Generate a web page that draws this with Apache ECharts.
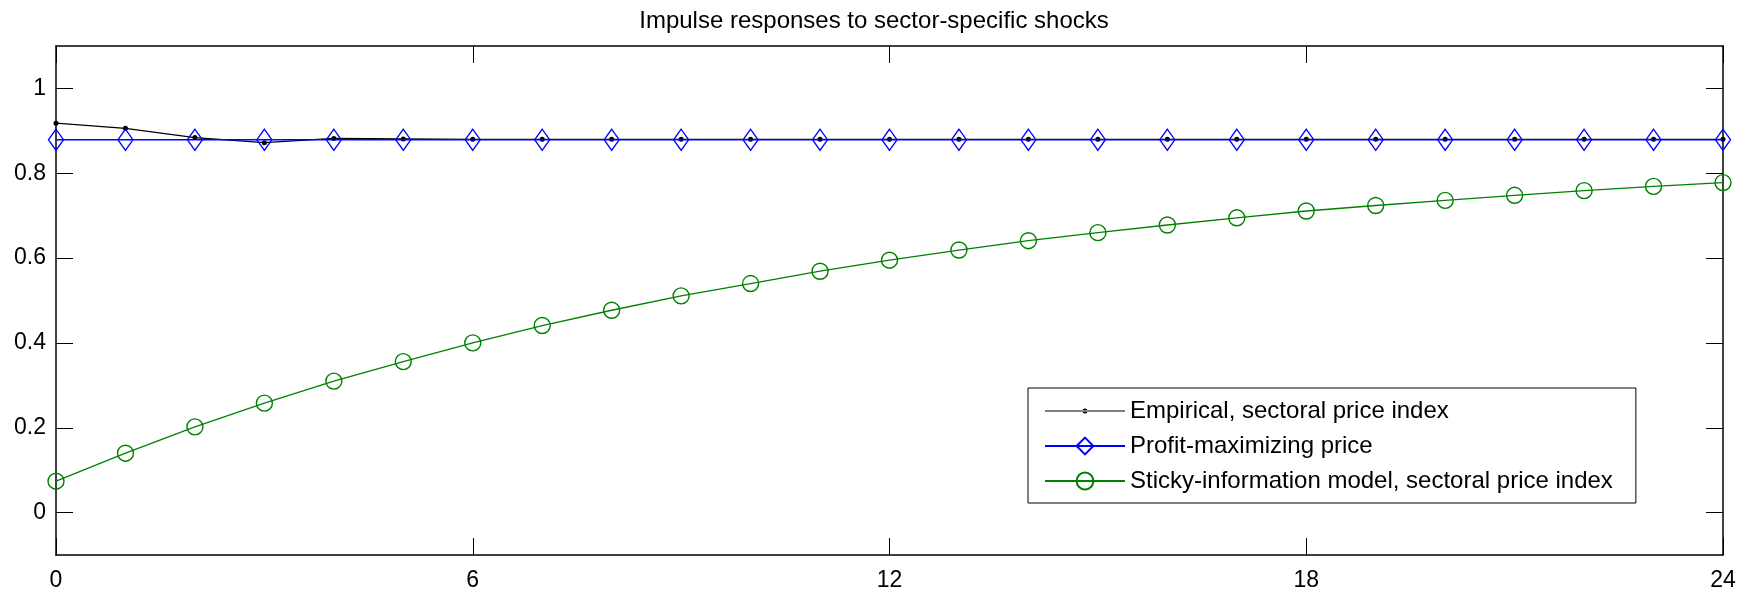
<!DOCTYPE html>
<html>
<head>
<meta charset="utf-8">
<script src="https://cdn.jsdelivr.net/npm/echarts@6/dist/echarts.min.js"></script>
<style>
html,body{margin:0;padding:0;background:#fff;}
#c{width:1748px;height:592px;}
</style>
</head>
<body>
<div id="c"></div>
<script>
const titleText = 'Impulse responses to sector-specific shocks';
const horizons = [0,1,2,3,4,5,6,7,8,9,10,11,12,13,14,15,16,17,18,19,20,21,22,23,24];
const empirical = [0.918,0.906,0.884,0.872,0.882,0.881,0.880,0.880,0.880,0.880,0.880,0.880,0.880,0.880,0.880,0.880,0.880,0.880,0.880,0.880,0.880,0.880,0.880,0.880,0.880];
const profitMax = [0.879,0.879,0.879,0.879,0.879,0.879,0.879,0.879,0.879,0.879,0.879,0.879,0.879,0.879,0.879,0.879,0.879,0.879,0.879,0.879,0.879,0.879,0.879,0.879,0.879];
const stickyInfo = [0.074,0.140,0.202,0.258,0.310,0.356,0.400,0.441,0.477,0.511,0.540,0.569,0.595,0.619,0.641,0.660,0.678,0.695,0.711,0.724,0.736,0.748,0.759,0.769,0.778];
const seriesNames = ['Empirical, sectoral price index','Profit-maximizing price','Sticky-information model, sectoral price index'];
const xTicks = [0,6,12,18,24];
const yTicks = [0,0.2,0.4,0.6,0.8,1];

const FONT = "'Liberation Sans', Arial, Helvetica, sans-serif";
const pair = arr => horizons.map((h,i)=>[h,arr[i]]);

const axisLineStyle = {show:true, onZero:false, lineStyle:{color:'#000', width:1.5}};
const tickStyle = {inside:true, length:17, lineStyle:{color:'#000', width:1}};

const chart = echarts.init(document.getElementById('c'), null, {renderer:'canvas'});
chart.setOption({
  animation:false,
  backgroundColor:'#fff',
  title:{
    text:titleText, left:'center', top:9, padding:0,
    textStyle:{fontFamily:FONT, fontSize:24, fontWeight:'normal', color:'#000'}
  },
  grid:{left:56, right:25, top:46, bottom:37, containLabel:false},
  legend:{
    orient:'vertical', left:1028, top:388,
    backgroundColor:'#fff', borderColor:'#000', borderWidth:1,
    padding:[11,23,10,16], itemGap:11, itemWidth:80, itemHeight:21,
    textStyle:{fontFamily:FONT, fontSize:24, color:'#000'},
    data:[
      {name:seriesNames[0], icon:'path://M0,9.5h80v1h-80z M37.5,10a2.5,2.5 0 1,0 5,0a2.5,2.5 0 1,0 -5,0z', itemStyle:{color:'#000', borderWidth:0}},
      {name:seriesNames[1]},
      {name:seriesNames[2]}
    ]
  },
  xAxis:[
    {type:'value', min:0, max:24, interval:6, position:'bottom',
     axisLine:axisLineStyle, axisTick:tickStyle, splitLine:{show:false},
     axisLabel:{fontFamily:FONT, fontSize:23, color:'#000', margin:14, customValues:xTicks}
    },
    {type:'value', min:0, max:24, interval:6, position:'top',
     axisLine:axisLineStyle, axisTick:tickStyle, splitLine:{show:false},
     axisLabel:{show:false}}
  ],
  yAxis:[
    {type:'value', min:-0.1, max:1.1, position:'left',
     axisLine:axisLineStyle,
     axisTick:Object.assign({customValues:yTicks}, tickStyle),
     splitLine:{show:false},
     axisLabel:{fontFamily:FONT, fontSize:23, color:'#000', margin:10, customValues:yTicks}},
    {type:'value', min:-0.1, max:1.1, position:'right',
     axisLine:axisLineStyle,
     axisTick:Object.assign({customValues:yTicks}, tickStyle),
     splitLine:{show:false}, axisLabel:{show:false}}
  ],
  series:[
    {name:seriesNames[0], type:'line', data:pair(empirical),
     symbol:'circle', symbolSize:5, showAllSymbol:true,
     lineStyle:{color:'#000', width:1.2},
     itemStyle:{color:'#000'}, z:2},
    {name:seriesNames[1], type:'line', data:pair(profitMax),
     symbol:'diamond', symbolSize:[15,21], showAllSymbol:true,
     lineStyle:{color:'#0000ff', width:1.5},
     itemStyle:{color:'rgba(255,255,255,0)', borderColor:'#0000ff', borderWidth:1.4}, z:3},
    {name:seriesNames[2], type:'line', data:pair(stickyInfo),
     symbol:'circle', symbolSize:16, showAllSymbol:true,
     lineStyle:{color:'#008000', width:1.3},
     itemStyle:{color:'rgba(255,255,255,0)', borderColor:'#008000', borderWidth:1.4}, z:3}
  ]
});
</script>
</body>
</html>
